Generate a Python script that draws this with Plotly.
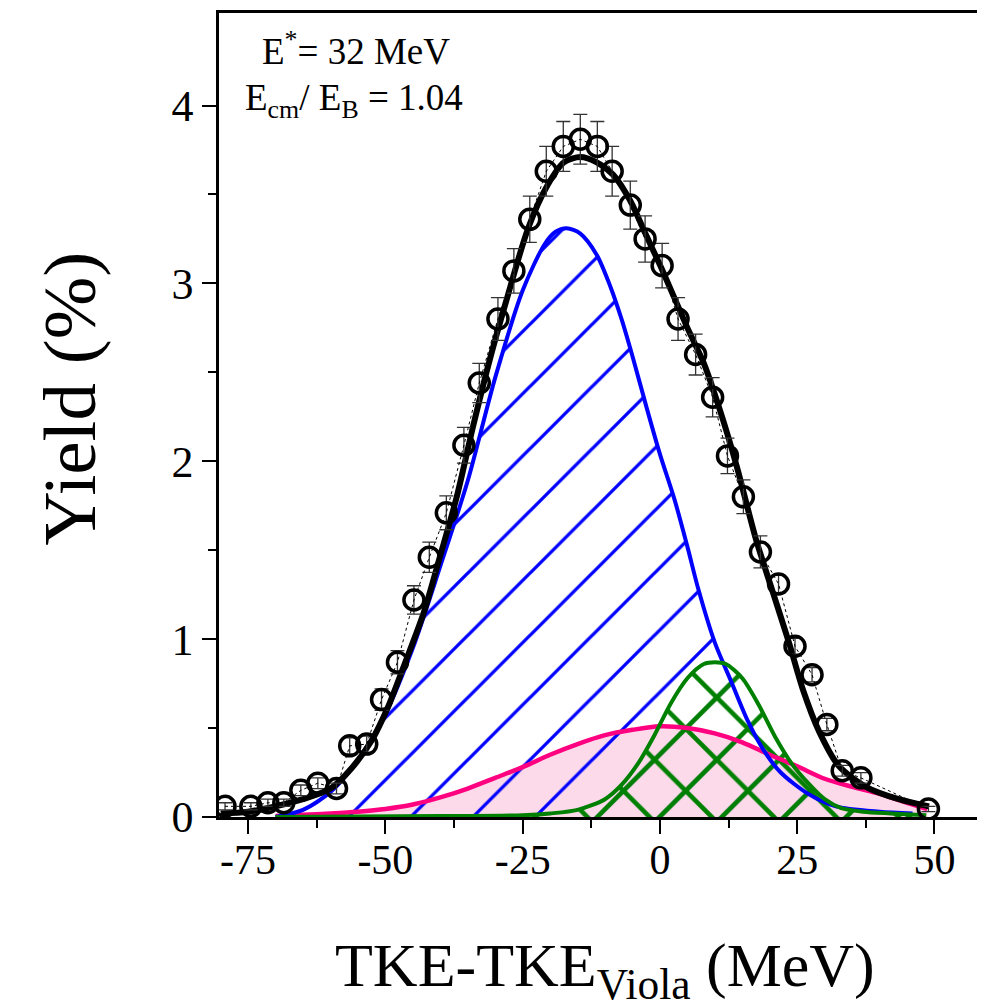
import plotly.graph_objects as go

# ---- experimental points ----
x_data = [-79.2, -74.5, -71.4, -68.5, -65.4, -62.3, -58.9, -56.5, -53.4, -50.7,
          -47.8, -44.8, -42.0, -38.9, -35.7, -32.9, -29.5, -26.6, -23.7, -20.7,
          -17.6, -14.5, -11.4, -8.7, -5.4, -2.7, 0.4, 3.3, 6.5, 9.6,
          12.3, 15.2, 18.3, 21.6, 24.6, 27.7, 30.4, 33.2, 36.6, 48.9]
y_data = [0.06, 0.06, 0.08, 0.08, 0.15, 0.19, 0.16, 0.40, 0.41, 0.66,
          0.87, 1.22, 1.46, 1.71, 2.09, 2.44, 2.80, 3.07, 3.36, 3.63,
          3.77, 3.81, 3.77, 3.63, 3.44, 3.25, 3.10, 2.80, 2.60, 2.36,
          2.03, 1.80, 1.49, 1.31, 0.96, 0.80, 0.52, 0.26, 0.22, 0.045]
err_data = [0.02, 0.02, 0.02, 0.02, 0.03, 0.03, 0.03, 0.045, 0.045, 0.06,
            0.065, 0.08, 0.085, 0.095, 0.10, 0.11, 0.12, 0.125, 0.13, 0.14,
            0.14, 0.14, 0.14, 0.14, 0.135, 0.13, 0.125, 0.12, 0.115, 0.11,
            0.10, 0.095, 0.09, 0.05, 0.045, 0.04, 0.035, 0.03, 0.03, 0.015]

# ---- total fit (black) ----
x_total = [-80, -75, -70, -65, -60, -56, -52.5, -49.5, -46.5, -43, -40, -37, -34,
           -31, -28, -24, -20.5, -17.5, -14.5, -11.5, -8.5, -5.5, -2.5, 0.5, 5,
           8, 11, 14, 17.5, 20.5, 23.5, 26, 29, 32.5, 37.5, 43.5, 49]
y_total = [0.02, 0.03, 0.06, 0.10, 0.16, 0.28, 0.43, 0.62, 0.86, 1.15, 1.47, 1.80, 2.20,
           2.57, 2.90, 3.31, 3.55, 3.68, 3.71, 3.68, 3.61, 3.47, 3.27, 3.07, 2.75,
           2.55, 2.28, 1.97, 1.56, 1.27, 0.98, 0.72, 0.48, 0.29, 0.17, 0.10, 0.06]

# ---- component 1 (blue, hatched) ----
x_blue = [-70, -65, -60, -55, -50, -45, -40, -35, -30, -25, -21, -19, -17, -14.5,
          -11.5, -9, -7, -5, -2.5, 0, 2.7, 5, 7, 10, 13, 16, 19, 22, 27, 32, 40, 46]
y_blue = [0.0, 0.04, 0.14, 0.32, 0.58, 0.95, 1.41, 1.89, 2.47, 2.96, 3.22, 3.29, 3.31, 3.28,
          3.16, 2.98, 2.80, 2.59, 2.31, 2.04, 1.78, 1.52, 1.28, 0.98, 0.76, 0.54, 0.37, 0.25,
          0.13, 0.06, 0.03, 0.02]

# ---- component 2 (pink, filled) ----
x_pink = [-70, -65, -60, -55, -50, -45, -40, -35, -30, -25, -20, -15, -10, -5, 0,
          5, 10, 15, 20, 25, 30, 35, 40, 45, 48.7]
y_pink = [0.005, 0.012, 0.02, 0.03, 0.045, 0.07, 0.11, 0.16, 0.22, 0.28, 0.35, 0.41, 0.46,
          0.49, 0.51, 0.50, 0.47, 0.42, 0.35, 0.285, 0.215, 0.17, 0.13, 0.08, 0.045]

# ---- component 3 (green, cross-hatched) ----
x_green = [-70, -40, -25, -20, -15, -10, -7, -4, -1, 2, 5, 8, 10, 12, 15, 18, 21,
           24, 27, 30, 33, 37, 42, 48.5]
y_green = [0.0, 0.005, 0.01, 0.02, 0.04, 0.10, 0.18, 0.30, 0.46, 0.64, 0.78, 0.86, 0.87,
           0.86, 0.78, 0.63, 0.45, 0.30, 0.19, 0.10, 0.05, 0.03, 0.02, 0.01]

x_ticks = [-75, -50, -25, 0, 25, 50]
y_ticks = [0, 1, 2, 3, 4]

FONT = "Liberation Serif"
SM = 0.8

fig = go.Figure()

# fills
fig.add_trace(go.Scatter(x=x_pink, y=y_pink, mode="lines",
                         line=dict(width=0, shape="spline", smoothing=SM),
                         fill="tozeroy", fillcolor="#FDDAEA", hoverinfo="skip"))
fig.add_trace(go.Scatter(x=x_blue, y=y_blue, mode="lines",
                         line=dict(width=0, shape="spline", smoothing=SM),
                         fill="tozeroy", fillcolor="rgba(0,0,0,0)",
                         fillpattern=dict(shape="/", fgcolor="#0000FF",
                                          bgcolor="rgba(0,0,0,0)", size=44,
                                          solidity=0.075, fillmode="replace"),
                         hoverinfo="skip"))
fig.add_trace(go.Scatter(x=x_green, y=y_green, mode="lines",
                         line=dict(width=0, shape="spline", smoothing=SM),
                         fill="tozeroy", fillcolor="rgba(0,0,0,0)",
                         fillpattern=dict(shape="x", fgcolor="#008000",
                                          bgcolor="rgba(0,0,0,0)", size=44,
                                          solidity=0.2, fillmode="replace"),
                         hoverinfo="skip"))

# outlines
fig.add_trace(go.Scatter(x=x_pink, y=y_pink, mode="lines",
                         line=dict(color="#FF0080", width=4.5, shape="spline", smoothing=SM)))
fig.add_trace(go.Scatter(x=x_blue, y=y_blue, mode="lines",
                         line=dict(color="#0000FF", width=4, shape="spline", smoothing=SM)))
fig.add_trace(go.Scatter(x=x_green, y=y_green, mode="lines",
                         line=dict(color="#008000", width=4, shape="spline", smoothing=SM)))

# total fit
fig.add_trace(go.Scatter(x=x_total, y=y_total, mode="lines",
                         line=dict(color="black", width=6, shape="spline", smoothing=SM)))

# data
fig.add_trace(go.Scatter(x=x_data, y=y_data, mode="lines+markers",
                         line=dict(color="black", width=1, dash="dot"),
                         marker=dict(symbol="circle-open", size=20, color="black",
                                     line=dict(width=3.5, color="black")),
                         error_y=dict(type="data", array=err_data, color="#333333",
                                      thickness=1.3, width=7)))

fig.update_layout(
    width=977, height=999,
    margin=dict(l=211, r=0, t=5, b=190),
    paper_bgcolor="white", plot_bgcolor="white",
    showlegend=False,
    font=dict(family=FONT, color="black"),
    xaxis=dict(range=[-80.3, 59.2], tickvals=x_ticks, ticktext=[str(v) for v in x_ticks],
               ticks="outside", ticklen=14, tickwidth=2, tickcolor="black",
               ticklabelstandoff=-10,
               showline=True, linecolor="black", linewidth=2.5, mirror=True,
               showgrid=False, zeroline=False,
               tickfont=dict(family=FONT, size=42, color="black"),
               minor=dict(tickvals=[-62.5, -37.5, -12.5, 12.5, 37.5], ticks="outside",
                          ticklen=8, tickwidth=2, tickcolor="black", showgrid=False)),
    yaxis=dict(range=[0, 4.52], tickvals=y_ticks, ticktext=[str(v) for v in y_ticks],
               ticks="outside", ticklen=14, tickwidth=2, tickcolor="black",
               showline=True, linecolor="black", linewidth=2.5, mirror=False,
               showgrid=False, zeroline=False,
               tickfont=dict(family=FONT, size=44, color="black"),
               minor=dict(tickvals=[0.5, 1.5, 2.5, 3.5], ticks="outside",
                          ticklen=8, tickwidth=2, tickcolor="black", showgrid=False)),
)

fig.add_annotation(x=-55.3, y=4.32, xref="x", yref="y", showarrow=False,
                   text="E<sup>*</sup>= 32 MeV", xanchor="center", yanchor="middle",
                   font=dict(family=FONT, size=37, color="black"))
fig.add_annotation(x=-55.8, y=4.03, xref="x", yref="y", showarrow=False,
                   text="E<sub>cm</sub>/ E<sub>B</sub> = 1.04", xanchor="center", yanchor="middle",
                   font=dict(family=FONT, size=37, color="black"))

fig.add_annotation(x=-0.195, y=0.52, xref="paper", yref="paper", showarrow=False,
                   text="Yield (%)", textangle=-90, xanchor="center", yanchor="middle",
                   font=dict(family=FONT, size=75, color="black"))
fig.add_annotation(x=0.504, y=-0.19, xref="paper", yref="paper", showarrow=False,
                   text="TKE-TKE<sub>Viola</sub> (MeV)", xanchor="center", yanchor="middle",
                   font=dict(family=FONT, size=62, color="black"))

fig.write_html("out.html")
